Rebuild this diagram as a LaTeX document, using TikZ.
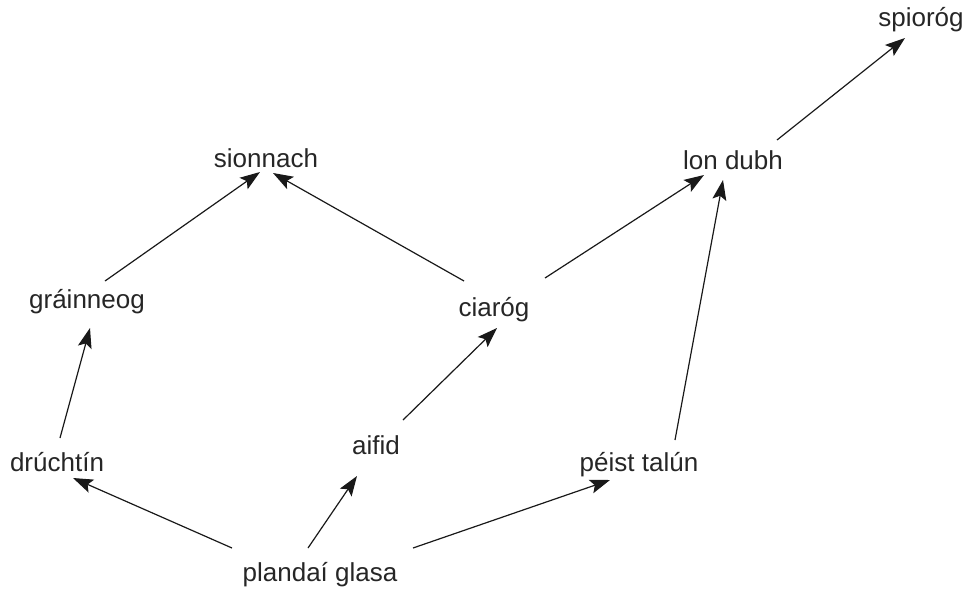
\documentclass[tikz,border=0pt]{standalone}
\usepackage{fontspec}
\setmainfont{Liberation Sans}
\usetikzlibrary{arrows.meta,calc}
\begin{document}
\begin{tikzpicture}[x=1pt,y=-1pt,
  lbl/.style={font=\fontsize{26}{29}\selectfont, inner sep=4pt, text=black!85},
  arr/.style={-{Stealth[length=20pt,width=14pt,inset=4pt]}, line width=1.2pt, black!90}]
\useasboundingbox (0,0) rectangle (969,590);
\node[lbl] (spi) at (921,20) {spioróg};
\node[lbl] (sio) at (266,158) {sionnach};
\node[lbl] (lon) at (733,160) {lon dubh};
\node[lbl] (gra) at (87,302) {gráinneog};
\node[lbl] (cia) at (494,310) {ciaróg};
\node[lbl] (dru) at (57,462) {drúchtín};
\node[lbl] (aif) at (376,445) {aifid};
\node[lbl] (pei) at (639,465) {péist talún};
\node[lbl] (pla) at (320,575) {plandaí glasa};
\draw[arr] ($(gra)+(18,-21)$) -- ($(sio)+(-6,14)$);
\draw[arr] ($(cia)+(-30,-29)$) -- ($(sio)+(7,15)$);
\draw[arr] ($(cia)+(51,-32)$) -- ($(lon)+(-29,15)$);
\draw[arr] ($(pei)+(36,-25)$) -- ($(lon)+(-10,20)$);
\draw[arr] ($(lon)+(44,-20)$) -- ($(spi)+(-16,18)$);
\draw[arr] ($(dru)+(3,-24)$) -- ($(gra)+(3,26)$);
\draw[arr] ($(aif)+(27,-25)$) -- ($(cia)+(3,18)$);
\draw[arr] ($(pla)+(-88,-27)$) -- ($(dru)+(16,16)$);
\draw[arr] ($(pla)+(-12,-27)$) -- ($(aif)+(-19,31)$);
\draw[arr] ($(pla)+(93,-27)$) -- ($(pei)+(-29,15)$);
\end{tikzpicture}
\end{document}
